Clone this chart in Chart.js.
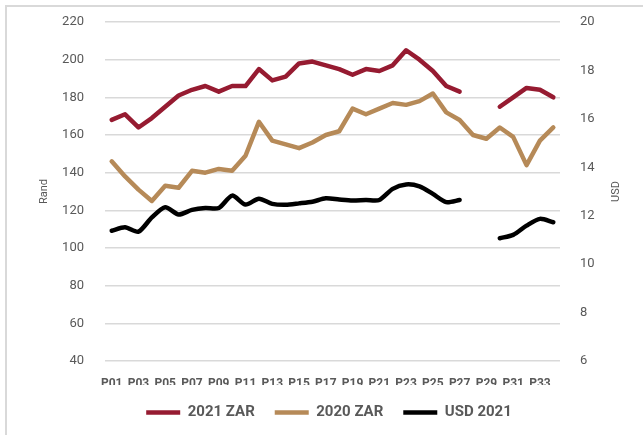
<!DOCTYPE html>
<html lang="en">
<head>
    <meta charset="UTF-8">
    <title>Rand / USD by period</title>
    <script src="https://cdn.jsdelivr.net/npm/chart.js"></script>
    <style>
        body {
            margin: 0;
            background: #ffffff;
        }
        canvas {
            display: block;
        }
    </style>
</head>
<body>
    <canvas id="priceChart" width="643" height="435"></canvas>

    <script>
        const periods = ['P01', 'P02', 'P03', 'P04', 'P05', 'P06', 'P07', 'P08', 'P09', 'P10',
                         'P11', 'P12', 'P13', 'P14', 'P15', 'P16', 'P17', 'P18', 'P19', 'P20',
                         'P21', 'P22', 'P23', 'P24', 'P25', 'P26', 'P27', 'P28', 'P29', 'P30',
                         'P31', 'P32', 'P33', 'P34'];

        const zar2021 = [168, 171, 164, 169, 175, 181, 184, 186, 183, 186,
                         186, 195, 189, 191, 198, 199, 197, 195, 192, 195,
                         194, 197, 205, 200, 194, 186, 183, null, null, 175,
                         180, 185, 184, 180];

        const zar2020 = [146, 138, 131, 125, 133, 132, 141, 140, 142, 141,
                         149, 167, 157, 155, 153, 156, 160, 162, 174, 171,
                         174, 177, 176, 178, 182, 172, 168, 160, 158, 164,
                         159, 144, 157, 164];

        const usd2021 = [11.38, 11.52, 11.34, 11.93, 12.35, 12.05, 12.24, 12.32, 12.32, 12.83,
                         12.46, 12.70, 12.49, 12.45, 12.51, 12.58, 12.72, 12.67, 12.63, 12.65,
                         12.65, 13.11, 13.29, 13.21, 12.90, 12.56, 12.65, null, null, 11.07,
                         11.21, 11.59, 11.87, 11.73];

        const FONT = "Roboto, 'Liberation Sans', sans-serif";
        const GREY = '#595959';

        // outer frame + rotated axis titles (both read bottom-to-top)
        const framePlugin = {
            id: 'frame',
            beforeDraw(chart) {
                const c = chart.ctx;
                c.save();
                c.strokeStyle = '#d9d9d9';
                c.lineWidth = 2;
                c.beginPath();
                c.moveTo(6, 435);
                c.lineTo(6, 6);
                c.lineTo(643, 6);
                c.stroke();
                c.restore();
            },
            afterDraw(chart) {
                const c = chart.ctx;
                const midY = (chart.chartArea.top + chart.chartArea.bottom) / 2;
                c.save();
                c.fillStyle = GREY;
                c.font = '11px ' + FONT;
                c.textAlign = 'center';
                c.textBaseline = 'middle';
                [['Rand', 44], ['USD', 616]].forEach(([txt, x]) => {
                    c.save();
                    c.translate(x, midY);
                    c.rotate(-Math.PI / 2);
                    c.fillText(txt, 0, 0);
                    c.restore();
                });
                c.restore();
            }
        };

        // fixed axis widths; drop the extra top/bottom room that ticks.padding adds
        function fixWidth(w) {
            return s => {
                s.width = w;
                s.paddingTop = 0;
                s.paddingBottom = 0;
            };
        }

        const ctx = document.getElementById('priceChart').getContext('2d');

        new Chart(ctx, {
            type: 'line',
            data: {
                labels: periods,
                datasets: [
                    {
                        label: '2021 ZAR',
                        data: zar2021,
                        borderColor: '#961b31',
                        backgroundColor: '#961b31',
                        yAxisID: 'y'
                    },
                    {
                        label: '2020 ZAR',
                        data: zar2020,
                        borderColor: '#b68a58',
                        backgroundColor: '#b68a58',
                        yAxisID: 'y'
                    },
                    {
                        label: 'USD 2021',
                        data: usd2021,
                        borderColor: '#000000',
                        backgroundColor: '#000000',
                        tension: 0.25,
                        yAxisID: 'y1'
                    }
                ]
            },
            options: {
                responsive: false,
                animation: false,
                spanGaps: false,
                datasets: {
                    line: {
                        borderWidth: 4.5,
                        borderCapStyle: 'round',
                        borderJoinStyle: 'round',
                        pointRadius: 0,
                        pointStyle: 'line'
                    }
                },
                layout: {
                    padding: { top: 22, left: 15, right: 0, bottom: 5 }
                },
                plugins: {
                    legend: {
                        position: 'bottom',
                        labels: {
                            usePointStyle: true,
                            pointStyleWidth: 34,
                            padding: 20,
                            color: GREY,
                            font: { family: FONT, size: 15, weight: 'bold' }
                        }
                    },
                    tooltip: { enabled: false }
                },
                scales: {
                    x: {
                        offset: true,
                        grid: { display: false, drawTicks: false },
                        border: { display: false },
                        ticks: {
                            autoSkip: false,
                            maxRotation: 0,
                            padding: 16,
                            color: GREY,
                            font: { family: FONT, size: 12, weight: 'bold' },
                            callback: function (val, i) {
                                return i % 2 === 0 ? this.getLabelForValue(val) : '';
                            }
                        },
                        afterFit: s => { s.height = 24; }
                    },
                    y: {
                        position: 'left',
                        min: 40,
                        max: 220,
                        grid: { color: '#d9d9d9', lineWidth: 1.5, drawTicks: false },
                        border: { display: false },
                        ticks: {
                            stepSize: 20,
                            padding: 21,
                            color: GREY,
                            font: { family: FONT, size: 13 }
                        },
                        afterFit: fixWidth(90)
                    },
                    y1: {
                        position: 'right',
                        min: 6,
                        max: 20,
                        grid: { display: false, drawTicks: false },
                        border: { display: false },
                        ticks: {
                            stepSize: 2,
                            padding: 20,
                            color: GREY,
                            font: { family: FONT, size: 13 }
                        },
                        afterFit: fixWidth(83)
                    }
                }
            },
            plugins: [framePlugin]
        });
    </script>
</body>
</html>
